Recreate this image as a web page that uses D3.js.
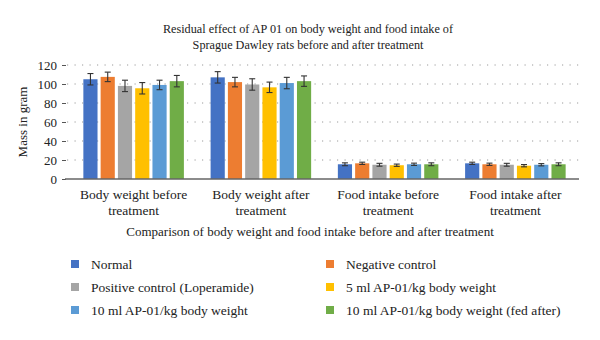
<!DOCTYPE html>
<html>
<head>
<meta charset="utf-8">
<script src="https://cdn.jsdelivr.net/npm/d3@7"></script>
<style>
  body { margin: 0; background: #fff; }
  svg { display: block; font-family: "Liberation Serif", "DejaVu Serif", serif; }
</style>
</head>
<body>
<script>
const categories = [
  ["Body weight before", "treatment"],
  ["Body weight after", "treatment"],
  ["Food intake before", "treatment"],
  ["Food intake after", "treatment"]
];
const groups = [
  "Normal",
  "Negative control",
  "Positive control (Loperamide)",
  "5 ml AP-01/kg body weight",
  "10 ml AP-01/kg body weight",
  "10 ml AP-01/kg body weight (fed after)"
];
const colors = ["#4472C4", "#ED7D31", "#A5A5A5", "#FFC000", "#5B9BD5", "#70AD47"];
const values = [
  [105, 107, 15.5, 16.5],
  [107.5, 102, 16.5, 15.5],
  [98, 99.5, 15, 15],
  [95.5, 96.5, 14.5, 14],
  [99, 101, 15.5, 15],
  [103, 103, 15.5, 15.5]
];
const errors = [
  [6, 6, 1.5, 1.2],
  [5, 5, 1.2, 1.2],
  [6, 6, 1.5, 1.5],
  [6, 5.5, 1.2, 1.2],
  [5, 6, 1.2, 1.2],
  [6, 5.5, 1.5, 1.5]
];
const yTicks = [0, 20, 40, 60, 80, 100, 120];

const width = 600, height = 340;
const MARGIN = { top: 65, right: 21, bottom: 161, left: 70 };
const LABEL_SIZE = "13.5px";

const svg = d3.select("body").append("svg")
  .attr("width", width)
  .attr("height", height);

const x0 = d3.scaleBand()
  .domain(d3.range(categories.length))
  .range([MARGIN.left, width - MARGIN.right])
  .paddingInner(0.21)
  .paddingOuter(0.105);

const x1 = d3.scaleBand()
  .domain(d3.range(groups.length))
  .range([0, x0.bandwidth()])
  .paddingInner(0.18);

const y = d3.scaleLinear()
  .domain([0, 120])
  .range([height - MARGIN.bottom, MARGIN.top]);

// title
svg.append("text")
  .attr("x", 308)
  .attr("y", 33)
  .attr("text-anchor", "middle")
  .attr("font-size", "12.2px")
  .attr("fill", "#222")
  .selectAll("tspan")
  .data(["Residual effect of AP 01 on body weight and food intake of", "Sprague Dawley rats before and after treatment"])
  .join("tspan")
  .attr("x", 308)
  .attr("dy", (d, i) => i ? 15.5 : 0)
  .text(d => d);

// gridlines
svg.append("g")
  .selectAll("line")
  .data(yTicks.filter(d => d > 0))
  .join("line")
  .attr("x1", 67)
  .attr("x2", width - MARGIN.right)
  .attr("y1", d => y(d))
  .attr("y2", d => y(d))
  .attr("stroke", "#9a9a9a")
  .attr("stroke-width", 1)
  .attr("stroke-dasharray", "1.2,6.3");

// y axis
const yAxis = d3.axisLeft(y)
  .tickValues(yTicks)
  .tickSize(4)
  .tickPadding(5);
const yAxisGroup = svg.append("g")
  .attr("transform", "translate(66,0)")
  .call(yAxis);
yAxisGroup.select(".domain").remove();
yAxisGroup.selectAll(".tick line").attr("stroke", "#555");
yAxisGroup.selectAll(".tick text")
  .attr("font-family", "Liberation Serif, serif")
  .attr("font-size", "13px")
  .attr("fill", "#222");

svg.append("text")
  .attr("transform", `translate(24,${y(60)}) rotate(-90)`)
  .attr("text-anchor", "middle")
  .attr("dominant-baseline", "middle")
  .attr("font-size", "13px")
  .attr("fill", "#222")
  .text("Mass in gram");

// bars
const barGroups = svg.append("g")
  .selectAll("g")
  .data(categories.map((c, ci) => ci))
  .join("g")
  .attr("transform", ci => `translate(${x0(ci)},0)`);

barGroups.selectAll("rect")
  .data(ci => groups.map((g, gi) => ({ gi, v: values[gi][ci], e: errors[gi][ci] })))
  .join("rect")
  .attr("x", d => x1(d.gi))
  .attr("y", d => y(d.v))
  .attr("width", x1.bandwidth())
  .attr("height", d => y(0) - y(d.v))
  .attr("fill", d => colors[d.gi]);

// error bars
const errG = barGroups.selectAll("g.err")
  .data(ci => groups.map((g, gi) => ({ gi, v: values[gi][ci], e: errors[gi][ci] })))
  .join("g")
  .attr("class", "err")
  .attr("stroke", "#333")
  .attr("stroke-width", 1.1);
errG.append("line")
  .attr("x1", d => x1(d.gi) + x1.bandwidth() / 2)
  .attr("x2", d => x1(d.gi) + x1.bandwidth() / 2)
  .attr("y1", d => y(d.v + d.e))
  .attr("y2", d => y(d.v - d.e));
errG.selectAll("line.cap")
  .data(d => [d.v + d.e, d.v - d.e].map(t => ({ gi: d.gi, t })))
  .join("line")
  .attr("class", "cap")
  .attr("x1", d => x1(d.gi) + x1.bandwidth() / 2 - 3)
  .attr("x2", d => x1(d.gi) + x1.bandwidth() / 2 + 3)
  .attr("y1", d => y(d.t))
  .attr("y2", d => y(d.t));

// baseline
svg.append("line")
  .attr("x1", 65)
  .attr("x2", width - MARGIN.right)
  .attr("y1", y(0))
  .attr("y2", y(0))
  .attr("stroke", "#666")
  .attr("stroke-width", 1.3);

// category labels
svg.append("g")
  .selectAll("text")
  .data(categories)
  .join("text")
  .attr("text-anchor", "middle")
  .attr("font-size", LABEL_SIZE)
  .attr("fill", "#222")
  .attr("y", 199)
  .each(function (d, i) {
    const cx = x0(i) + x0.bandwidth() / 2;
    d3.select(this).selectAll("tspan")
      .data(d)
      .join("tspan")
      .attr("x", cx)
      .attr("dy", (t, j) => j ? 16 : 0)
      .text(t => t);
  });

svg.append("text")
  .attr("x", 310)
  .attr("y", 236)
  .attr("text-anchor", "middle")
  .attr("font-size", "13px")
  .attr("fill", "#222")
  .text("Comparison of body weight and food intake before and after treatment");

// legend
const legend = svg.append("g")
  .selectAll("g")
  .data(groups)
  .join("g")
  .attr("transform", (d, i) => `translate(${i % 2 ? 326 : 71},${264 + Math.floor(i / 2) * 23})`);
legend.append("rect")
  .attr("x", 0)
  .attr("y", -4)
  .attr("width", 8)
  .attr("height", 8)
  .attr("fill", (d, i) => colors[i]);
legend.append("text")
  .attr("x", 20)
  .attr("y", 0)
  .attr("dominant-baseline", "central")
  .attr("font-size", LABEL_SIZE)
  .attr("fill", "#222")
  .text(d => d);
</script>
</body>
</html>
